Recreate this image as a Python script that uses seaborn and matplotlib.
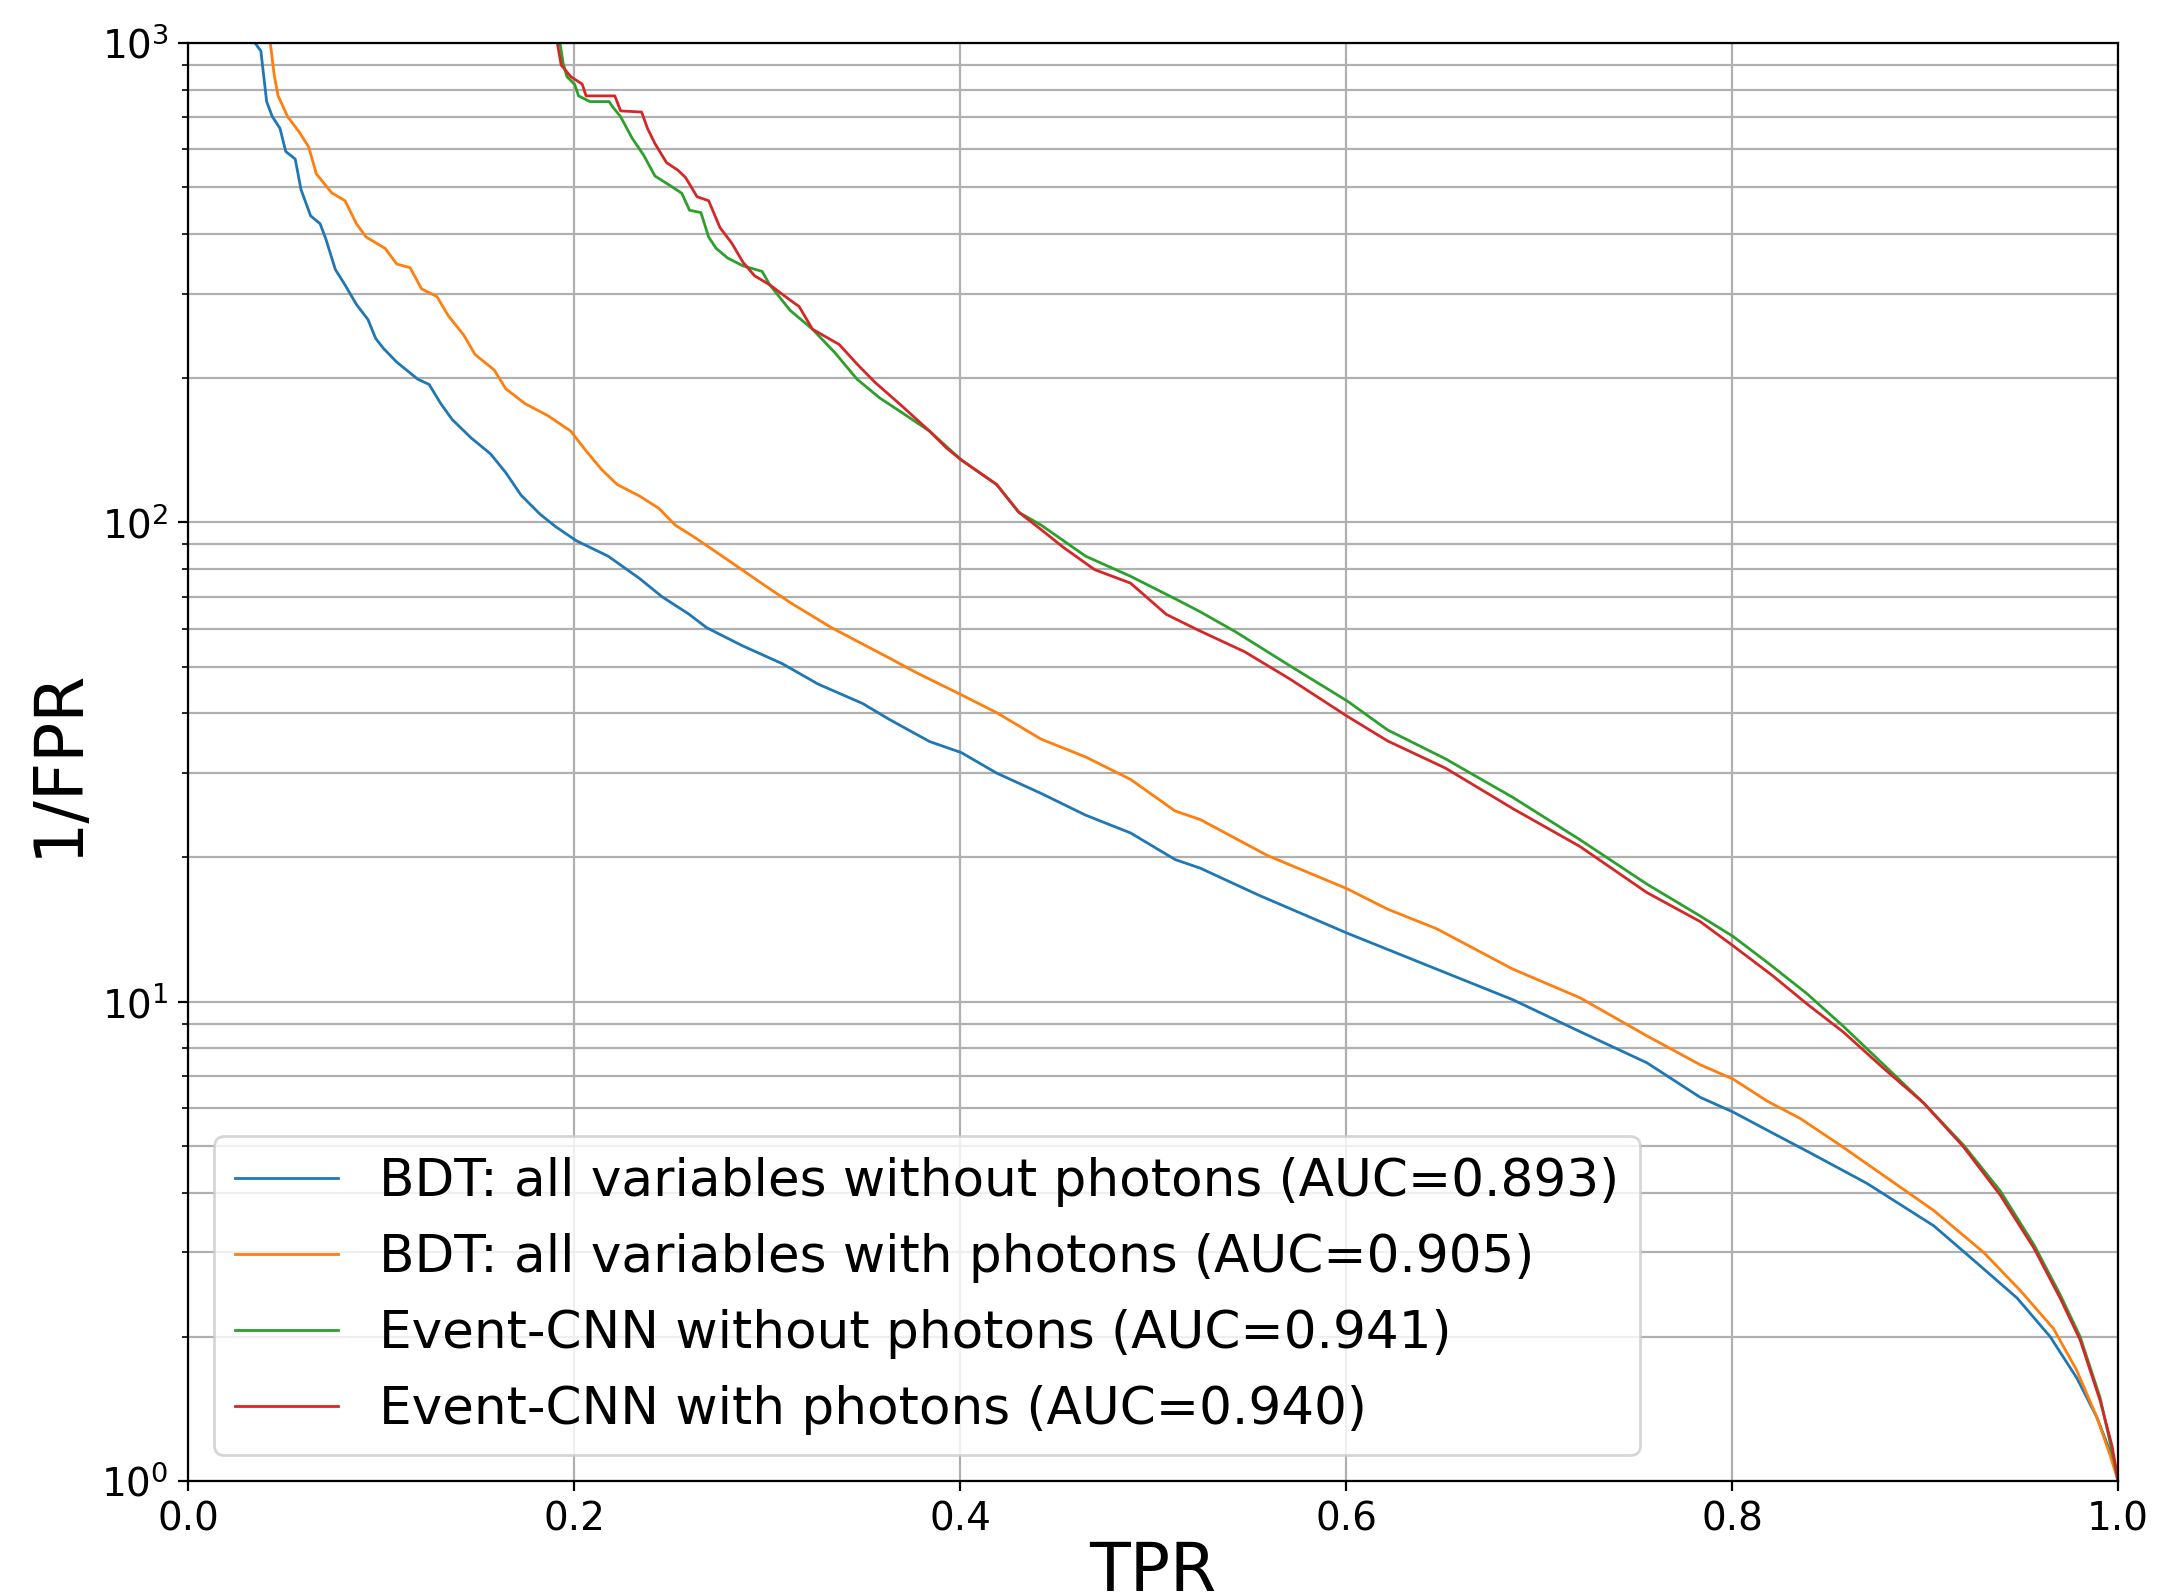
import numpy as np
import pandas as pd
import matplotlib
matplotlib.use("Agg")
import matplotlib.pyplot as plt
import seaborn as sns

# ROC curves: TPR vs 1/FPR
bdt_nopho_tpr = [0.0347, 0.0377, 0.0407, 0.0436, 0.0476, 0.0506, 0.0555, 0.0585, 0.0635, 0.0684,
                 0.0714, 0.0763, 0.0813, 0.0872, 0.0932, 0.0972, 0.1011, 0.1081, 0.1190, 0.1249,
                 0.1309, 0.1368, 0.1467, 0.1567, 0.1646, 0.1725, 0.1824, 0.1904, 0.2011, 0.2177,
                 0.2339, 0.2455, 0.2594, 0.2687, 0.2872, 0.3080, 0.3264, 0.3495, 0.3634, 0.3842,
                 0.4006, 0.4189, 0.4420, 0.4651, 0.4883, 0.5114, 0.5244, 0.5545, 0.6006, 0.6400,
                 0.6863, 0.7210, 0.7558, 0.7834, 0.8004, 0.8180, 0.8404, 0.8698, 0.9044, 0.9251,
                 0.9476, 0.9648, 0.9786, 0.9889, 0.9959, 1.0]
bdt_nopho_inv = [1000, 963, 755, 703, 664, 594, 573, 495, 436, 420,
                 390, 337, 313, 285, 265, 242, 231, 216, 199, 194,
                 177, 164, 150, 139, 127, 114, 104, 98, 91.6, 85,
                 76.4, 70.0, 64.4, 60.3, 55.3, 50.7, 46.0, 41.9, 38.8, 34.9,
                 33.1, 30.0, 27.2, 24.5, 22.5, 19.8, 19.0, 16.7, 13.9, 12.0,
                 10.1, 8.67, 7.46, 6.32, 5.89, 5.40, 4.84, 4.18, 3.41, 2.89,
                 2.41, 2.00, 1.64, 1.36, 1.15, 1.0]

bdt_pho_tpr = [0.0426, 0.0446, 0.0466, 0.0516, 0.0575, 0.0625, 0.0664, 0.0744, 0.0813, 0.0872,
               0.0922, 0.1021, 0.1081, 0.1150, 0.1210, 0.1289, 0.1348, 0.1428, 0.1487, 0.1586,
               0.1646, 0.1745, 0.1864, 0.1983, 0.2062, 0.2142, 0.2223, 0.2339, 0.2439, 0.2524,
               0.2617, 0.2802, 0.2987, 0.3126, 0.3334, 0.3634, 0.3773, 0.4006, 0.4189, 0.4420,
               0.4651, 0.4883, 0.5114, 0.5244, 0.5591, 0.6006, 0.6215, 0.6469, 0.6863, 0.7210,
               0.7558, 0.7834, 0.8004, 0.8180, 0.8352, 0.8560, 0.8785, 0.9044, 0.9303, 0.9492,
               0.9665, 0.9786, 0.9889, 0.9959, 1.0]
bdt_pho_inv = [1000, 859, 777, 702, 653, 607, 534, 487, 469, 420,
               394, 373, 346, 340, 307, 296, 270, 246, 224, 208,
               190, 177, 167, 155, 141, 129, 120, 113.5, 107, 98.7,
               93.5, 83.2, 73.9, 67.8, 60.3, 52.1, 48.6, 43.7, 40.1, 35.3,
               32.4, 29.1, 25.0, 24.0, 20.2, 17.2, 15.6, 14.2, 11.7, 10.2,
               8.49, 7.39, 6.90, 6.21, 5.71, 5.02, 4.34, 3.67, 3.00, 2.50,
               2.08, 1.70, 1.36, 1.13, 1.0]

cnn_nopho_tpr = [0.1927, 0.1943, 0.1963, 0.2003, 0.2023, 0.2082, 0.2181, 0.2201, 0.2241, 0.2300,
                 0.2360, 0.2419, 0.2499, 0.2558, 0.2598, 0.2657, 0.2697, 0.2736, 0.2796, 0.2875,
                 0.2974, 0.3014, 0.3119, 0.3235, 0.3351, 0.3466, 0.3582, 0.3703, 0.3842, 0.4006,
                 0.4189, 0.4304, 0.4420, 0.4651, 0.4883, 0.5114, 0.5244, 0.5428, 0.5706, 0.6006,
                 0.6215, 0.6516, 0.6863, 0.7210, 0.7558, 0.7834, 0.8003, 0.8180, 0.8387, 0.8577,
                 0.8785, 0.8992, 0.9199, 0.9389, 0.9564, 0.9699, 0.9803, 0.9907, 0.9959, 1.0]
cnn_nopho_inv = [1000, 908, 851, 820, 776, 755, 755, 735, 702, 634,
                 584, 528, 504, 486, 448, 443, 394, 373, 356, 343,
                 334, 313, 277, 253, 226, 199, 182, 169, 155, 135,
                 120, 105, 98.7, 85, 77.2, 69.3, 65.1, 59.1, 50.3, 42.4,
                 36.9, 32.1, 26.7, 21.8, 17.6, 15.1, 13.7, 12.1, 10.4, 8.88,
                 7.39, 6.15, 5.02, 4.03, 3.11, 2.45, 2.00, 1.49, 1.20, 1.0]

cnn_pho_tpr = [0.1913, 0.1933, 0.1983, 0.2042, 0.2062, 0.2211, 0.2241, 0.2350, 0.2380, 0.2419,
               0.2479, 0.2538, 0.2578, 0.2637, 0.2697, 0.2756, 0.2816, 0.2875, 0.2935, 0.3014,
               0.3109, 0.3166, 0.3235, 0.3374, 0.3466, 0.3559, 0.3698, 0.3842, 0.3929, 0.4006,
               0.4189, 0.4304, 0.4420, 0.4535, 0.4697, 0.4883, 0.5068, 0.5230, 0.5475, 0.5706,
               0.6006, 0.6215, 0.6516, 0.6863, 0.7210, 0.7558, 0.7834, 0.8003, 0.8214, 0.8387,
               0.8577, 0.8785, 0.8992, 0.9199, 0.9389, 0.9564, 0.9699, 0.9803, 0.9907, 0.9969, 1.0]
cnn_pho_inv = [1000, 900, 851, 821, 776, 776, 722, 718, 664, 617,
               563, 543, 524, 478, 469, 412, 383, 349, 327, 313,
               293, 282, 253, 235, 214, 196, 175, 155, 143, 135,
               120, 105, 96.6, 88.7, 79.7, 74.7, 64.3, 59.7, 53.7, 47.2,
               39.4, 35.0, 30.7, 25.3, 21.1, 16.9, 14.7, 13.1, 11.3, 9.9,
               8.64, 7.26, 6.15, 4.98, 3.95, 3.06, 2.41, 1.97, 1.47, 1.18, 1.0]

labels = ["BDT: all variables without photons (AUC=0.893)",
          "BDT: all variables with photons (AUC=0.905)",
          "Event-CNN without photons (AUC=0.941)",
          "Event-CNN with photons (AUC=0.940)"]
colors = ["tab:blue", "tab:orange", "tab:green", "tab:red"]

curves = [(bdt_nopho_tpr, bdt_nopho_inv), (bdt_pho_tpr, bdt_pho_inv),
          (cnn_nopho_tpr, cnn_nopho_inv), (cnn_pho_tpr, cnn_pho_inv)]

fig, ax = plt.subplots(figsize=(10.785, 7.98), dpi=200)
fig.subplots_adjust(left=0.0872, right=0.982, top=0.973, bottom=0.072)

for (tpr, inv), lbl, c in zip(curves, labels, colors):
    df = pd.DataFrame({"TPR": tpr, "inv": inv})
    sns.lineplot(data=df, x="TPR", y="inv", sort=False, estimator=None,
                 color=c, linewidth=1.0, label=lbl, ax=ax)

ax.set_yscale("log")
ax.set_xlim(0, 1)
ax.set_ylim(1, 1000)
ax.grid(True, which="both")
ax.set_xlabel("TPR", fontsize=24, labelpad=0)
ax.set_ylabel("1/FPR", fontsize=24)
ax.tick_params(labelsize=14)
ax.legend(loc="lower left", fontsize=18.6)

plt.savefig("out.png", dpi=200)
plt.close()
